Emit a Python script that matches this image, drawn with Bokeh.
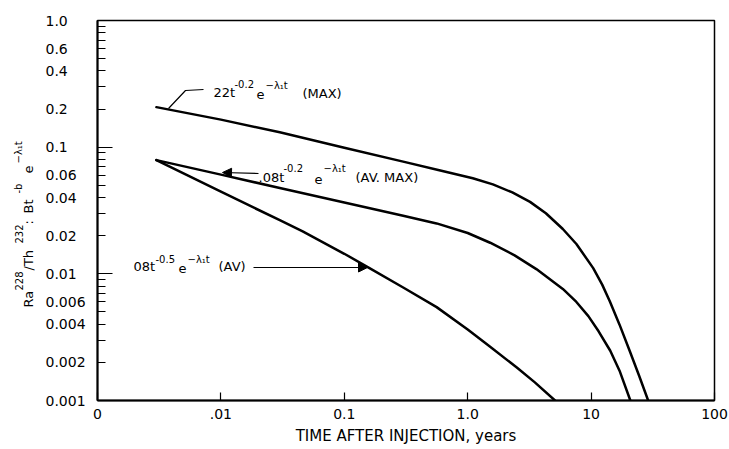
import math
from bokeh.plotting import figure
from bokeh.layouts import row
from bokeh.models import FixedTicker, Label, Arrow, NormalHead, Range1d, LogAxis
from bokeh.core.properties import value
from bokeh.embed import file_html
from bokeh.resources import INLINE

# ---------------- data ----------------
# 0.22 t^-0.2 e^-l1 t  (MAX)
t_max = [0.003, 0.01, 0.03, 0.1, 0.3, 0.6, 1.1, 1.6, 2.3, 3.2, 4.3, 5.9, 7.6, 10.4, 12.3, 14.2, 17.0, 20.6, 24.5, 29.0]
v_max = [0.207, 0.165, 0.131, 0.099, 0.0769, 0.0655, 0.0569, 0.0508, 0.0439, 0.037, 0.0301, 0.0226, 0.0172,
         0.0111, 0.00822, 0.00605, 0.00397, 0.00245, 0.00157, 0.001]
# 0.08 t^-0.2 e^-l1 t  (AV. MAX)
t_avmax = [0.003, 0.01, 0.03, 0.1, 0.3, 0.56, 1.0, 1.52, 2.4, 3.6, 5.9, 7.6, 9.5, 11.5, 14.3, 17.0, 20.8]
v_avmax = [0.079, 0.0607, 0.0476, 0.0366, 0.0287, 0.025, 0.021, 0.0176, 0.014, 0.0109, 0.0076, 0.0060,
           0.00464, 0.00352, 0.00247, 0.00172, 0.001]
# 0.08 t^-0.5 e^-l1 t  (AV)
t_av = [0.003, 0.01, 0.03, 0.046, 0.1, 0.16, 0.3, 0.56, 1.0, 1.52, 2.5, 3.5, 5.1]
v_av = [0.079, 0.0445, 0.0265, 0.0216, 0.0144, 0.0111, 0.0078, 0.00546, 0.00363, 0.00266, 0.00182, 0.00139, 0.001]

x_ticks = [0.001, 0.01, 0.1, 1, 10, 100]
x_tick_labels = ["0", ".01", "0.1", "1.0", "10", "100"]
y_major = [0.001, 0.01, 0.1, 1.0]
y_label_vals = [1.0, 0.6, 0.4, 0.2, 0.1, 0.06, 0.04, 0.02, 0.01, 0.006, 0.004, 0.002, 0.001]
y_label_text = ["1.0", "0.6", "0.4", "0.2", "0.1", "0.06", "0.04", "0.02", "0.01", "0.006", "0.004", "0.002", "0.001"]
x_title = "TIME AFTER INJECTION, years"

# ---------------- layout ----------------
W, H = 729, 449
LW = 92                        # width of the left strip (y labels + title)
LF = 40                        # frame width of the left strip; labels start at LF + 5
L, R, T, B = 97, 714, 20, 400  # frame of the chart, page pixels
X0, X1 = 0.001, 100.0
Y0, Y1 = 0.001, 1.0
FONT = "DejaVu Sans"
LAM = "\u2212\u03bb\u2081t"


def xd(px):
    lo, hi = math.log10(X0), math.log10(X1)
    return 10 ** (lo + (px - L) / (R - L) * (hi - lo))


def yd(py):
    lo, hi = math.log10(Y0), math.log10(Y1)
    return 10 ** (hi - (py - T) / (B - T) * (hi - lo))


p = figure(width=W - LW, height=H, x_axis_type="log", y_axis_type="log",
           x_range=Range1d(X0, X1), y_range=Range1d(Y0, Y1),
           output_backend="svg", toolbar_location=None,
           min_border_left=L - LW, min_border_right=W - R,
           min_border_top=T, min_border_bottom=H - B)
p.xgrid.visible = False
p.ygrid.visible = False
p.outline_line_color = "black"
p.outline_line_width = 1.5

# x axis
xa = p.xaxis[0]
xa.ticker = FixedTicker(ticks=x_ticks, minor_ticks=[])
xa.major_label_overrides = {k: s for k, s in zip(x_ticks, x_tick_labels)}
xa.major_tick_in = 8
xa.major_tick_out = 0
xa.minor_tick_in = 0
xa.minor_tick_out = 0
xa.axis_line_width = 2
xa.major_tick_line_width = 1.2
xa.major_label_text_font = FONT
xa.major_label_text_font_size = "14px"
xa.major_label_text_color = "black"
xa.major_label_standoff = 8
xa.axis_label = x_title
xa.axis_label_text_font = FONT
xa.axis_label_text_font_size = "15px"
xa.axis_label_text_font_style = "normal"
xa.axis_label_text_color = "black"
xa.axis_label_standoff = 5

# y axis: ticks only (labels are drawn by the left strip's axis)
ya = p.yaxis[0]
ya.ticker = FixedTicker(ticks=y_major,
                        minor_ticks=[k * 10 ** e for e in (-3, -2, -1) for k in range(2, 10)])
ya.major_tick_in = 15
ya.major_tick_out = 0
ya.minor_tick_in = 8
ya.minor_tick_out = 0
ya.axis_line_width = 2
ya.major_tick_line_width = 1.2
ya.minor_tick_line_width = 1.2
ya.major_label_text_color = None
ya.major_label_text_font_size = "0px"
ya.major_label_standoff = 0

# curves
for tx, vy in ((t_max, v_max), (t_avmax, v_avmax), (t_av, v_av)):
    p.line(tx, vy, line_color="black", line_width=2.5, line_join="round", line_cap="round")


def txt(s, px, py, size):
    p.add_layout(Label(x=xd(px), y=yd(py), text=s, text_align="left", text_baseline="middle",
                       text_font=FONT, text_font_size=f"{size}px", text_color="black"))


# curve annotations
for s, px, py, sz in (("22t", 213, 92, 13), ("-0.2", 234, 83, 10), ("e", 256, 94, 13),
                      (LAM, 265, 85, 10), ("(MAX)", 302, 93, 13)):
    txt(s, px, py, sz)
p.line([xd(168), xd(185), xd(203)], [yd(108), yd(90), yd(89)], line_color="black", line_width=1.2)

for s, px, py, sz in ((".08t", 258, 177, 13), ("-0.2", 283, 167, 10), ("e", 314, 179, 13),
                      (LAM, 323, 168, 10), ("(AV. MAX)", 355, 177, 13)):
    txt(s, px, py, sz)
p.add_layout(Arrow(end=NormalHead(size=9, fill_color="black", line_color="black"),
                   x_start=xd(258), y_start=yd(173), x_end=xd(222), y_end=yd(172),
                   line_color="black", line_width=1.2))

for s, px, py, sz in (("08t", 133, 266, 13), ("-0.5", 155, 258, 10), ("e", 178, 268, 13),
                      (LAM, 187, 259, 10), ("(AV)", 218, 266, 13)):
    txt(s, px, py, sz)
p.add_layout(Arrow(end=NormalHead(size=9, fill_color="black", line_color="black"),
                   x_start=xd(253), y_start=yd(267), x_end=xd(367), y_end=yd(267),
                   line_color="black", line_width=1.2))

# ---------------- left strip: y tick labels (left aligned) and rotated y title ----------------
left = figure(width=LW, height=H, y_axis_type="log",
              x_range=Range1d(0, LF), y_range=Range1d(Y0, Y1),
              output_backend="svg", toolbar_location=None,
              x_axis_location=None, y_axis_location=None,
              min_border_left=0, min_border_right=LW - LF, min_border_top=T, min_border_bottom=H - B)
left.xgrid.visible = False
left.ygrid.visible = False
left.outline_line_color = None

lab_axis = LogAxis(ticker=FixedTicker(ticks=y_label_vals, minor_ticks=[]),
                   major_label_overrides={k: s for k, s in zip(y_label_vals, y_label_text)},
                   axis_line_color=None, major_tick_in=0, major_tick_out=0,
                   minor_tick_in=0, minor_tick_out=0, major_label_standoff=5,
                   major_label_text_font=FONT, major_label_text_font_size="14px",
                   major_label_text_color="black")
left.add_layout(lab_axis, "right")

A = math.pi / 2
big = (("Ra", 28, 307), ("/Th", 28, 270), (":", 28, 224), ("Bt", 28, 213), ("e", 28, 173))
small = (("228", 18, 290), ("232", 18, 243), ("-b", 18, 193), (LAM, 18, 163))
for pieces, size in ((big, "13px"), (small, "10px")):
    left.text(x=[q[1] for q in pieces], y=[yd(q[2]) for q in pieces], text=[q[0] for q in pieces],
              angle=A, text_align="left", text_baseline="middle",
              text_font=value(FONT), text_font_size=value(size), text_color="black")

layout = row(left, p)
open("out.html", "w").write(file_html(layout, INLINE))
